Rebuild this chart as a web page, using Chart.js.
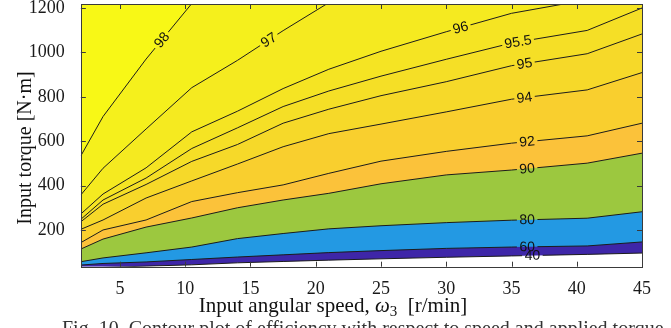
<!DOCTYPE html>
<html lang="en">
<head>
<meta charset="UTF-8">
<title>Efficiency contour</title>
<script src="https://cdn.jsdelivr.net/npm/chart.js"></script>
<style>
  html, body { margin: 0; padding: 0; background: #fff; }
  #wrap { width: 671px; height: 328px; }
</style>
</head>
<body>
<div id="wrap"><canvas id="effChart" width="671" height="328"></canvas></div>
<script>
// input speed samples (r/min) shared by every contour
const speeds = [2, 3.7, 7, 10.5, 14, 17.5, 21, 25, 30, 35, 40.8, 45];

// input torque (N·m) at which the efficiency equals each level
const eff40  = [25, 31, 37, 43, 52, 58, 64, 70, 77, 83, 90, 96];
const eff60  = [42, 49, 56, 67, 78, 88, 98, 107, 117, 123, 128, 146];
const eff80  = [57, 74, 97, 123, 161, 184, 205, 219, 233, 244, 253, 282];
const eff90  = [114, 159, 213, 254, 300, 335, 365, 408, 448, 470, 501, 546];
const eff92  = [143, 200, 245, 328, 368, 403, 455, 510, 554, 591, 624, 681];
const eff94  = [203, 245, 344, 421, 497, 575, 634, 677, 732, 789, 831, 909];
const eff95  = [237, 316, 405, 509, 585, 681, 744, 805, 868, 940, 994, 1083];
const eff955 = [248, 335, 434, 567, 660, 756, 826, 893, 969, 1042, 1099, 1200];
const eff96  = [272, 362, 480, 642, 735, 837, 924, 1005, 1093, 1176, 1237, null];
const eff97  = [358, 478, 655, 841, 964, 1098, 1224, null, null, null, null, null];
const eff98  = [534, 711, 970, 1220, null, null, null, null, null, null, null, null];

const levels   = ['40', '60', '80', '90', '92', '94', '95', '95.5', '96', '97', '98'];
const contours = [eff40, eff60, eff80, eff90, eff92, eff94, eff95, eff955, eff96, eff97, eff98];
// colour of the band lying above each level
const bandColors = ['#3e26a8', '#2399e3', '#9cc83f', '#fbc23a', '#f9cf2e', '#f6d929',
                    '#f5df26', '#f5e423', '#f5ea20', '#f5f01c', '#f8f816'];
// speed at which each level gets its inline label
const labelSpeeds = [36.6, 36.2, 36.2, 36.2, 36.2, 36.0, 36.0, 35.5, 31.1, 16.4, 8.2];

const xTicks = [5, 10, 15, 20, 25, 30, 35, 40, 45];
const yTicks = [200, 400, 600, 800, 1000, 1200];

const serif = '"Liberation Serif", "Times New Roman", serif';
const labelFont = '14px "Liberation Sans", Arial, sans-serif';

// where the label of contour i sits, and the direction of the line there
function labelGeom(chart, i) {
  const xs = chart.scales.x, ys = chart.scales.y;
  const vals = contours[i], s = labelSpeeds[i];
  let j = 0;
  while (j < speeds.length - 2 && speeds[j + 1] < s) j++;
  const x0 = xs.getPixelForValue(speeds[j]), y0 = ys.getPixelForValue(vals[j]);
  const x1 = xs.getPixelForValue(speeds[j + 1]), y1 = ys.getPixelForValue(vals[j + 1]);
  const px = xs.getPixelForValue(s);
  const t = (px - x0) / (x1 - x0);
  const ctx = chart.ctx;
  ctx.font = labelFont;
  return {
    x: px, y: y0 + t * (y1 - y0),
    a: Math.atan2(y1 - y0, x1 - x0),
    w: ctx.measureText(levels[i]).width + 5
  };
}

// breaks each contour line where its label goes
const labelGaps = {
  id: 'labelGaps',
  beforeDatasetDraw(chart, args) {
    const g = labelGeom(chart, args.index);
    const ctx = chart.ctx;
    const c = Math.cos(g.a), s = Math.sin(g.a), hw = g.w / 2, hh = 8;
    const pts = [[-hw, -hh], [hw, -hh], [hw, hh], [-hw, hh]]
      .map(([u, v]) => [g.x + u * c - v * s, g.y + u * s + v * c]);
    ctx.save();
    ctx.beginPath();
    ctx.rect(0, 0, chart.width, chart.height);
    ctx.moveTo(pts[0][0], pts[0][1]);
    for (let k = 1; k < 4; k++) ctx.lineTo(pts[k][0], pts[k][1]);
    ctx.closePath();
    ctx.clip('evenodd');
  },
  afterDatasetDraw(chart) {
    chart.ctx.restore();
  }
};

// box, inward ticks, contour labels and axis titles
const decorations = {
  id: 'decorations',
  afterDatasetsDraw(chart) {
    const ctx = chart.ctx, a = chart.chartArea;
    const xs = chart.scales.x, ys = chart.scales.y;
    ctx.save();
    ctx.strokeStyle = '#3a3a3a';
    ctx.lineWidth = 1;
    ctx.beginPath();
    xTicks.forEach(v => {
      const x = Math.round(xs.getPixelForValue(v)) + 0.5;
      ctx.moveTo(x, a.bottom); ctx.lineTo(x, a.bottom - 5);
      ctx.moveTo(x, a.top); ctx.lineTo(x, a.top + 5);
    });
    yTicks.forEach(v => {
      const y = Math.round(ys.getPixelForValue(v)) + 0.5;
      ctx.moveTo(a.left, y); ctx.lineTo(a.left + 5, y);
      ctx.moveTo(a.right, y); ctx.lineTo(a.right - 5, y);
    });
    ctx.stroke();
    ctx.strokeRect(Math.round(a.left) + 0.5, Math.round(a.top) + 0.5,
                   Math.round(a.right - a.left), Math.round(a.bottom - a.top));

    ctx.font = labelFont;
    ctx.fillStyle = '#111';
    ctx.textAlign = 'center';
    ctx.textBaseline = 'middle';
    levels.forEach((lv, i) => {
      const g = labelGeom(chart, i);
      ctx.save();
      ctx.translate(g.x, g.y);
      ctx.rotate(g.a);
      ctx.fillText(lv, 0, 0.5);
      ctx.restore();
    });
    ctx.restore();
  },
  afterDraw(chart) {
    const ctx = chart.ctx;
    ctx.save();
    ctx.fillStyle = '#111';
    ctx.textBaseline = 'alphabetic';

    // x title with italic omega and subscript
    const parts = [
      { t: 'Input angular speed, ', f: '21px ' + serif, dy: 0 },
      { t: 'ω', f: 'italic 21px ' + serif, dy: 0 },
      { t: '3', f: '15px ' + serif, dy: 4 },
      { t: '  [r/min]', f: '21px ' + serif, dy: 0 }
    ];
    let total = 0;
    parts.forEach(p => { ctx.font = p.f; p.w = ctx.measureText(p.t).width; total += p.w; });
    let x = 333 - total / 2;
    parts.forEach(p => { ctx.font = p.f; ctx.textAlign = 'left'; ctx.fillText(p.t, x, 312 + p.dy); x += p.w; });

    // y title
    ctx.save();
    ctx.translate(31, 148);
    ctx.rotate(-Math.PI / 2);
    ctx.font = '20px ' + serif;
    ctx.textAlign = 'center';
    ctx.fillText('Input torque [N·m]', 0, 0);
    ctx.restore();

    // figure caption, clipped by the page edge
    ctx.fillStyle = '#333';
    ctx.font = '20px ' + serif;
    ctx.textAlign = 'left';
    ctx.fillText('Fig. 10. Contour plot of efficiency with respect to speed and applied torque.', 62, 335);
    ctx.restore();
  }
};

const datasets = contours.map((vals, i) => ({
  label: levels[i],
  data: speeds.map((s, j) => ({ x: s, y: vals[j] })),
  borderColor: '#1c1c1c',
  borderWidth: 1,
  pointRadius: 0,
  tension: 0,
  spanGaps: false,
  fill: 'end',
  backgroundColor: bandColors[i],
  order: levels.length - i
}));

new Chart(document.getElementById('effChart'), {
  type: 'line',
  data: { datasets },
  options: {
    responsive: false,
    animation: false,
    devicePixelRatio: 1,
    layout: { padding: { left: 0, right: 29, top: 4, bottom: 0 } },
    plugins: { legend: { display: false }, tooltip: { enabled: false } },
    scales: {
      x: {
        type: 'linear', min: 2, max: 45,
        grid: { display: false }, border: { display: false },
        afterBuildTicks: axis => { axis.ticks = xTicks.map(v => ({ value: v })); },
        afterFit: axis => { axis.height = 61.3; axis.paddingLeft = 0; axis.paddingRight = 0; },
        ticks: { font: { family: serif, size: 18 }, color: '#1a1a1a', padding: 4, maxRotation: 0,
                 callback: v => String(v) }
      },
      y: {
        type: 'linear', min: 34.5, max: 1218,
        grid: { display: false }, border: { display: false },
        afterBuildTicks: axis => { axis.ticks = yTicks.map(v => ({ value: v })); },
        afterFit: axis => { axis.width = 80.85; axis.paddingTop = 0; axis.paddingBottom = 0; },
        ticks: { font: { family: serif, size: 18 }, color: '#1a1a1a', padding: 8,
                 callback: v => String(v) }
      }
    }
  },
  plugins: [labelGaps, decorations]
});
</script>
</body>
</html>
